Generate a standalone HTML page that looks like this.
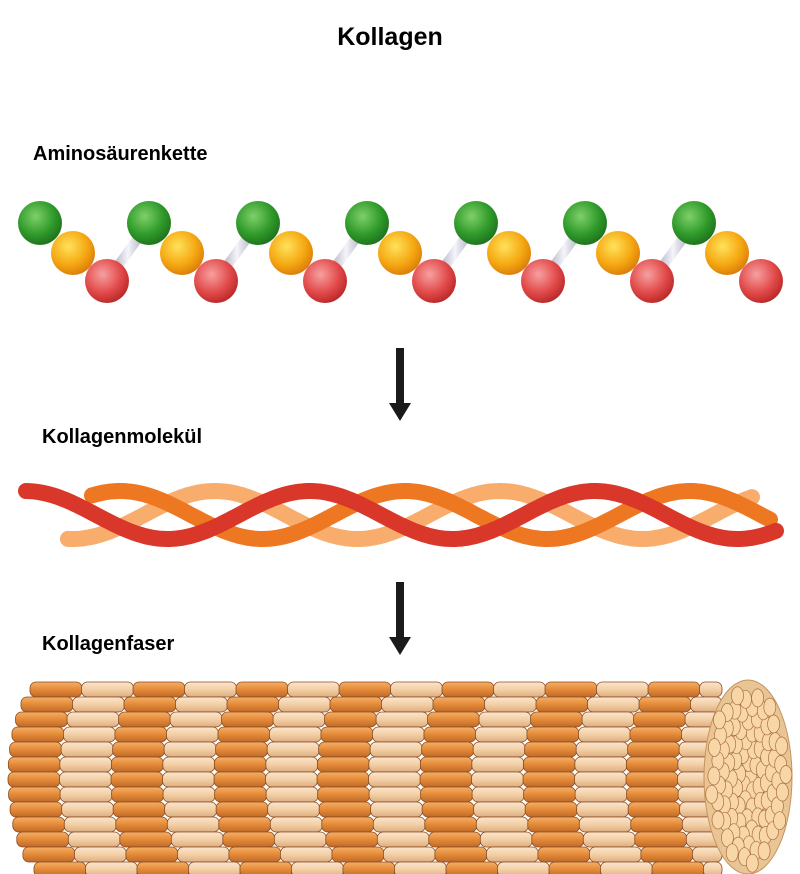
<!DOCTYPE html>
<html><head><meta charset="utf-8"><style>
body{margin:0;background:#fff;width:800px;height:874px;overflow:hidden}
svg{display:block}
text{font-family:"Liberation Sans",sans-serif;font-weight:bold;fill:#000}
</style></head><body>
<svg width="800" height="874" viewBox="0 0 800 874" xmlns="http://www.w3.org/2000/svg">
<defs>
<radialGradient id="g" cx="0.4" cy="0.35" r="0.7"><stop offset="0" stop-color="#7fd06a"/><stop offset="0.6" stop-color="#2f9a2a"/><stop offset="1" stop-color="#1d6e1b"/></radialGradient>
<radialGradient id="o" cx="0.4" cy="0.35" r="0.7"><stop offset="0" stop-color="#ffe25a"/><stop offset="0.6" stop-color="#f5a812"/><stop offset="1" stop-color="#d9780a"/></radialGradient>
<radialGradient id="r" cx="0.4" cy="0.35" r="0.7"><stop offset="0" stop-color="#f7a0a0"/><stop offset="0.6" stop-color="#e24a4a"/><stop offset="1" stop-color="#b52525"/></radialGradient>
<linearGradient id="st" x1="0" x2="1"><stop offset="0" stop-color="#9a98b0"/><stop offset="0.5" stop-color="#f4f4fa"/><stop offset="1" stop-color="#9a98b0"/></linearGradient>
<linearGradient id="fo" x1="0" y1="0" x2="0" y2="1"><stop offset="0" stop-color="#f6b065"/><stop offset="0.5" stop-color="#e38a38"/><stop offset="1" stop-color="#c06a28"/></linearGradient>
<linearGradient id="fl" x1="0" y1="0" x2="0" y2="1"><stop offset="0" stop-color="#fbe6cf"/><stop offset="0.5" stop-color="#f3cfa5"/><stop offset="1" stop-color="#dcae82"/></linearGradient>
</defs>
<text x="390" y="45" font-size="25" text-anchor="middle">Kollagen</text>
<text x="33" y="160" font-size="20">Aminosäurenkette</text>
<text x="42" y="443" font-size="20">Kollagenmolekül</text>
<text x="42" y="650" font-size="20">Kollagenfaser</text>
<g id="chain"></g>
<rect x="396" y="348" width="8" height="58" fill="#1a1a1a"/><polygon points="389,403 411,403 400,421" fill="#1a1a1a"/>
<rect x="396" y="582" width="8" height="58" fill="#1a1a1a"/><polygon points="389,637 411,637 400,655" fill="#1a1a1a"/>
<g id="helix" fill="none" stroke-linecap="round"></g>
<g id="fiber"></g>
<script>
var ns="http://www.w3.org/2000/svg";
function el(p,t,a){var e=document.createElementNS(ns,t);for(var k in a)e.setAttribute(k,a[k]);p.appendChild(e);return e;}
var c=document.getElementById('chain');
for(var i=0;i<7;i++){var x=40+i*109;
 if(i<6) el(c,'line',{x1:x+67,y1:281,x2:x+109,y2:223,stroke:'url(#st)','stroke-width':10});
}
for(var i=0;i<7;i++){var x=40+i*109;
 el(c,'circle',{cx:x,cy:223,r:22,fill:'url(#g)'});
 el(c,'circle',{cx:x+33,cy:253,r:22,fill:'url(#o)'});
 el(c,'circle',{cx:x+67,cy:281,r:22,fill:'url(#r)'});
}
var h=document.getElementById('helix');
var P=285;
function strand(col,ph,x0,x1,w){var d='';for(var x=x0;x<=x1;x+=3){var y=515+24*Math.sin((x-ph)/P*2*Math.PI);d+=(x==x0?'M':'L')+x+' '+y.toFixed(1);}el(h,'path',{d:d,stroke:col,'stroke-width':w});}
strand('#f8ad6c',1.25,68,752,16);
strand('#ee7722',-93.75,92,772,16);
strand('#d9372a',-188.75,26,776,16);
var f=document.getElementById('fiber');
var cy=777,R=97;
for(var y=682;y<=866;y+=15){
 var t=(y+7-cy)/R; if(t>1)t=1; if(t<-1)t=-1;
 var sh=38*(1-Math.sqrt(1-t*t));
 for(var j=0;j<14;j++){
  var x=8+sh+j*51.5; var w=52;
  if(x>718)break; if(x+w>722)w=722-x;
  el(f,'rect',{x:x,y:y,width:w,height:15,rx:6,fill:(j%2?'url(#fl)':'url(#fo)'),stroke:'#8a4a1e','stroke-width':0.8});
 }
}
el(f,'ellipse',{cx:748,cy:777,rx:44,ry:97,fill:'#e9c495',stroke:'#c7935e'});
for(var a=0;a<90;a++){var rr=Math.sqrt((a+0.5)/90),th=a*2.4;
 var ex=748+38*rr*Math.cos(th),ey=777+88*rr*Math.sin(th);
 el(f,'ellipse',{cx:ex.toFixed(1),cy:ey.toFixed(1),rx:6,ry:9,fill:'#f9d6a8',stroke:'#a8703e','stroke-width':0.7});}
</script>
</svg>
</body></html>
